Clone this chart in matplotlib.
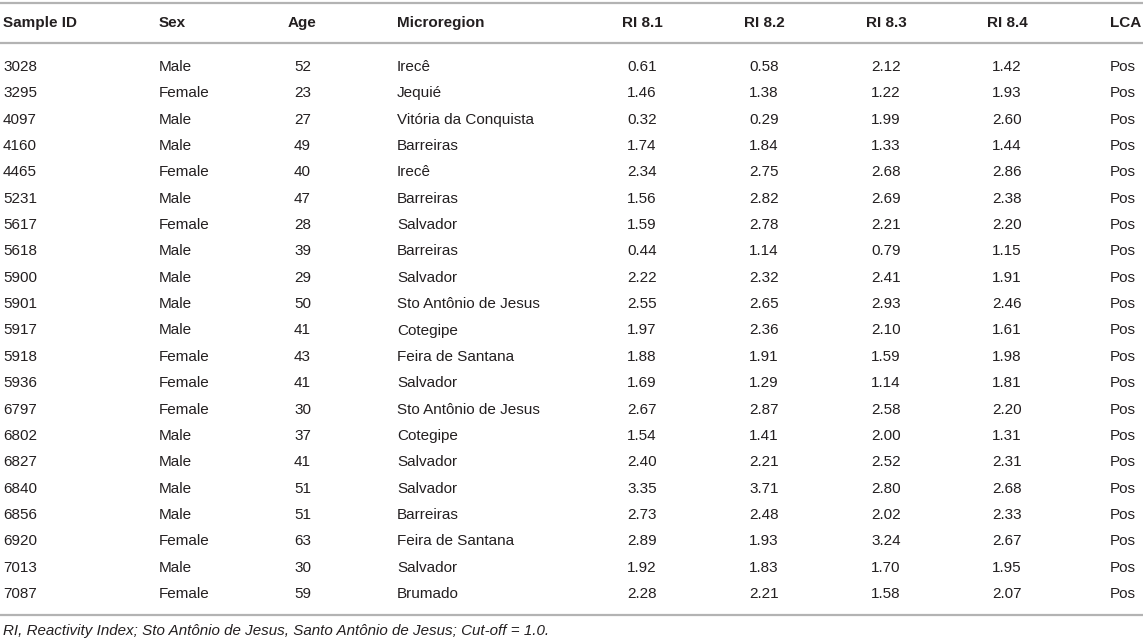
import matplotlib.pyplot as plt

# table content
headers = ['Sample ID', 'Sex', 'Age', 'Microregion', 'RI 8.1', 'RI 8.2', 'RI 8.3', 'RI 8.4', 'LCA']
sample_ids = ['3028', '3295', '4097', '4160', '4465', '5231', '5617', '5618', '5900', '5901', '5917',
              '5918', '5936', '6797', '6802', '6827', '6840', '6856', '6920', '7013', '7087']
sex = ['Male', 'Female', 'Male', 'Male', 'Female', 'Male', 'Female', 'Male', 'Male', 'Male', 'Male',
       'Female', 'Female', 'Female', 'Male', 'Male', 'Male', 'Male', 'Female', 'Male', 'Female']
age = [52, 23, 27, 49, 40, 47, 28, 39, 29, 50, 41, 43, 41, 30, 37, 41, 51, 51, 63, 30, 59]
microregion = ['Irecê', 'Jequié', 'Vitória da Conquista', 'Barreiras', 'Irecê', 'Barreiras', 'Salvador',
               'Barreiras', 'Salvador', 'Sto Antônio de Jesus', 'Cotegipe', 'Feira de Santana', 'Salvador',
               'Sto Antônio de Jesus', 'Cotegipe', 'Salvador', 'Salvador', 'Barreiras', 'Feira de Santana',
               'Salvador', 'Brumado']
ri_81 = [0.61, 1.46, 0.32, 1.74, 2.34, 1.56, 1.59, 0.44, 2.22, 2.55, 1.97,
         1.88, 1.69, 2.67, 1.54, 2.40, 3.35, 2.73, 2.89, 1.92, 2.28]
ri_82 = [0.58, 1.38, 0.29, 1.84, 2.75, 2.82, 2.78, 1.14, 2.32, 2.65, 2.36,
         1.91, 1.29, 2.87, 1.41, 2.21, 3.71, 2.48, 1.93, 1.83, 2.21]
ri_83 = [2.12, 1.22, 1.99, 1.33, 2.68, 2.69, 2.21, 0.79, 2.41, 2.93, 2.10,
         1.59, 1.14, 2.58, 2.00, 2.52, 2.80, 2.02, 3.24, 1.70, 1.58]
ri_84 = [1.42, 1.93, 2.60, 1.44, 2.86, 2.38, 2.20, 1.15, 1.91, 2.46, 1.61,
         1.98, 1.81, 2.20, 1.31, 2.31, 2.68, 2.33, 2.67, 1.95, 2.07]
lca = ['Pos'] * 21
footnote = 'RI, Reactivity Index; Sto Antônio de Jesus, Santo Antônio de Jesus; Cut-off = 1.0.'

plt.rcParams['font.family'] = ['Liberation Sans', 'DejaVu Sans']
text_color = '#231f20'
rule_color = '#b3b3b3'

W, H = 1143, 643
fig = plt.figure(figsize=(W / 100, H / 100), dpi=100)
ax = fig.add_axes([0, 0, 1, 1])
ax.set_xlim(0, W)
ax.set_ylim(H, 0)
ax.axis('off')

# column x positions and alignment
col_x = [3, 159, 302.5, 397, 642, 764, 886, 1007, 1110]
col_ha = ['left', 'left', 'center', 'left', 'center', 'center', 'center', 'center', 'left']

columns = [sample_ids, sex, [str(a) for a in age], microregion,
           [f'{v:.2f}' for v in ri_81], [f'{v:.2f}' for v in ri_82],
           [f'{v:.2f}' for v in ri_83], [f'{v:.2f}' for v in ri_84], lca]

fs = 11
header_y = 23
row0, row_step = 67, 26.35

for x, ha, h in zip(col_x, col_ha, headers):
    ax.text(x, header_y, h, ha=ha, va='center', fontsize=fs, fontweight='bold', color=text_color)

for x, ha, col in zip(col_x, col_ha, columns):
    for i, val in enumerate(col):
        ax.text(x, row0 + i * row_step, val, ha=ha, va='center', fontsize=fs, color=text_color)

# horizontal rules
for y in (3, 43, 615):
    ax.plot([0, W], [y, y], color=rule_color, lw=1.6, solid_capstyle='butt')

ax.text(3, 631, footnote, ha='left', va='center', fontsize=10.9, style='italic', color=text_color)

fig.savefig('out.png', dpi=100, facecolor='white')
